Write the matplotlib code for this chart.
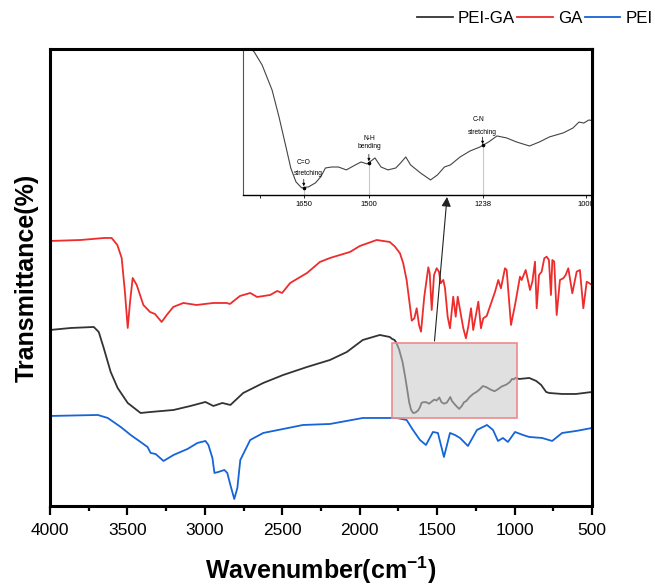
import numpy as np
import matplotlib
matplotlib.use('Agg')
import matplotlib.pyplot as plt
from matplotlib.patches import Rectangle
from matplotlib.ticker import MultipleLocator
from matplotlib.lines import Line2D

plt.rcParams['font.family'] = ['Liberation Sans', 'DejaVu Sans']
plt.rcParams['mathtext.fontset'] = 'custom'
plt.rcParams['mathtext.rm'] = 'Liberation Sans'
plt.rcParams['mathtext.bf'] = 'Liberation Sans:bold'

# ---------------- data ----------------
series_names = ['PEI-GA', 'GA', 'PEI']
series_colors = ['#333333', '#EE2C2C', '#1565D8']

pei_ga_wn = [4000, 3865, 3717, 3685, 3653, 3608, 3563, 3498, 3415, 3350, 3202, 3093,
             2996, 2945, 2887, 2835, 2752, 2623, 2494, 2340, 2192, 2083, 1980, 1870,
             1806, 1790, 1775, 1764, 1746, 1723, 1707, 1691, 1680, 1668, 1655, 1639,
             1623, 1611, 1600, 1586, 1570, 1552, 1531, 1518, 1504, 1486, 1472, 1456,
             1438, 1427, 1415, 1404, 1381, 1358, 1342, 1326, 1312, 1290, 1267, 1244,
             1224, 1205, 1183, 1160, 1130, 1107, 1084, 1052, 1030, 1016, 1005, 993,
             970, 905, 860, 828, 796, 777, 693, 603, 500]
pei_ga_t = [180, 182, 183, 178, 162, 138, 122, 107, 97, 98, 100, 104,
            108, 104, 107, 105, 117, 127, 135, 143, 150, 158, 170, 175,
            173, 171, 170, 167.4, 160.7, 147.7, 133.7, 118.2, 107.3, 100.1, 97.0, 97.5,
            99.6, 102.7, 107.3, 107.8, 107.8, 106.3, 108.9, 110.4, 109.4, 112.5, 107.8, 106.3,
            107.3, 109.9, 113.0, 108.9, 104.7, 101.1, 103.7, 107.8, 108.9, 113.0, 116.1, 118.2,
            120.8, 123.9, 122.9, 120.8, 118.7, 120.8, 123.4, 125.5, 128.0, 131.1, 130.6, 132.2,
            131, 132, 129, 125, 118, 117, 116, 116, 118]

ga_wn = [4000, 3800, 3650, 3602, 3565, 3537, 3516, 3498, 3483, 3466, 3440, 3397, 3354,
         3322, 3279, 3246, 3204, 3139, 3053, 2946, 2859, 2838, 2773, 2707, 2662, 2578,
         2533, 2501, 2449, 2340, 2257, 2192, 2063, 1999, 1890, 1806,
         1772, 1740, 1719, 1697, 1675, 1664, 1647, 1632, 1617, 1604, 1583, 1557, 1548,
         1535, 1520, 1503, 1488, 1477, 1460, 1449, 1432, 1417, 1396, 1380, 1367, 1352,
         1331, 1314, 1299, 1281, 1267, 1234, 1217, 1202, 1180, 1148, 1126, 1105, 1088,
         1062, 1051, 1023, 997, 965, 954, 928, 900, 885, 868, 857, 842, 825, 808, 793,
         778, 765, 756, 744, 728, 707, 685, 670, 653, 627, 599, 578, 556, 534, 517, 500]
ga_t = [269, 270, 272, 272, 265, 252, 218, 182, 208, 232, 225, 205, 198,
        196, 188, 195, 203, 207, 205, 207, 207, 206, 214, 217, 213, 215,
        219, 217, 227, 237, 248, 252, 258, 264, 270, 268,
        263.3, 256.7, 246.7, 230, 203.3, 189.3, 191.7, 201.7, 185, 178.3, 213.3, 242.7, 236.7,
        200, 235, 241.7, 238.3, 226.7, 230, 221.7, 193.3, 181.7, 213.3, 193.3, 213.3, 200,
        181.7, 171.7, 183.3, 201.7, 180, 208.3, 181.7, 191.7, 194, 208.3, 218.3, 230, 221.7,
        241.7, 240, 185, 205, 233.3, 230, 240, 220, 228.3, 248.3, 201.7, 235, 238.3, 251.7, 253.3,
        250, 215, 250, 248.3, 195, 230, 231.7, 235, 241.7, 216.7, 238.3, 240, 201.7, 228.3, 226.7, 225]

pei_wn = [4000, 3691, 3627, 3543, 3479, 3415, 3370, 3350, 3318, 3267, 3202, 3112, 3048,
          2996, 2977, 2951, 2938, 2913, 2874, 2855, 2835, 2810, 2790, 2771, 2707, 2623,
          2494, 2366, 2192, 1980, 1870, 1761, 1697, 1656, 1611, 1572, 1527, 1495, 1456,
          1417, 1385, 1352, 1301, 1243, 1178, 1139, 1107, 1075, 1043, 997, 946, 905,
          822, 757, 693, 603, 500]
pei_t = [94, 95, 92, 83, 75, 68, 63, 57, 56, 49, 55, 61, 67,
         69, 65, 52, 37, 38, 40, 37, 25, 11, 22, 50, 70, 77,
         81, 85, 86, 92, 92, 92, 90, 80, 70, 65, 78, 77, 53,
         77, 75, 72, 64, 80, 85, 80, 69, 72, 68, 78, 75, 73,
         72, 69, 77, 79, 82]

zoom_wn = (1793, 985)       # highlighted region
zoom_t = (92, 167)
inset_xlim = (1790, 986)
inset_ylim = (93.3, 169)
inset_ticks = [1750, 1650, 1500, 1238, 1000]
inset_ticklabels = ['', '1650', '1500', '1238', '1000']
peaks = [(1650, 'C=O', 'stretching'), (1500, 'N-H', 'bending'), (1238, 'C-N', 'stretching')]
# text offsets (points): (dx_top, dy_top, dx_bottom, dy_bottom)
peak_offsets = [(0, 18, 3, 10), (0, 17, 0, 11.5), (-3, 19, 0, 9.5)]

# ---------------- figure ----------------
fig = plt.figure(figsize=(6.55, 5.88), dpi=100)
ax = fig.add_axes([0.0763, 0.1395, 0.8275, 0.7772])

all_wn = [pei_ga_wn, ga_wn, pei_wn]
all_t = [pei_ga_t, ga_t, pei_t]
for wn, t, c in zip(all_wn, all_t, series_colors):
    ax.plot(wn, t, color=c, lw=1.3, solid_joinstyle='round', zorder=2)

ax.set_xlim(4000, 500)
ax.set_ylim(4, 461)
ax.set_yticks([])
ax.xaxis.set_major_locator(MultipleLocator(500))
ax.xaxis.set_minor_locator(MultipleLocator(250))
ax.tick_params(axis='x', which='major', direction='out', length=6.5, width=1.6,
               labelsize=12.5, pad=5.5)
ax.tick_params(axis='x', which='minor', direction='out', length=3.5, width=1.6)
for s in ax.spines.values():
    s.set_linewidth(2.2)
ax.set_xlabel(r'Wavenumber(cm$^{\mathbf{-1}}$)', fontsize=18, fontweight='bold', labelpad=12)
ax.set_ylabel('Transmittance(%)', fontsize=18, fontweight='bold', labelpad=8)

rect = Rectangle((min(zoom_wn), zoom_t[0]), abs(zoom_wn[0] - zoom_wn[1]), zoom_t[1] - zoom_t[0],
                 facecolor=(0.78, 0.78, 0.78, 0.55), edgecolor='#F08A8A', lw=1.2, zorder=3)
ax.add_patch(rect)

ax.annotate('', xy=(1436, 313), xytext=(1517, 169),
            arrowprops=dict(arrowstyle='-|>', color='#222222', lw=0.8,
                            mutation_scale=14, shrinkA=0, shrinkB=0), zorder=4)

# ---------------- inset ----------------
ax_in = fig.add_axes([0.371, 0.6684, 0.5328, 0.2483])
ax_in.plot(pei_ga_wn, pei_ga_t, color='#444444', lw=0.8)
ax_in.set_xlim(*inset_xlim)
ax_in.set_ylim(*inset_ylim)
ax_in.set_yticks([])
ax_in.set_xticks(inset_ticks)
ax_in.set_xticklabels(inset_ticklabels)
ax_in.tick_params(axis='x', direction='out', length=2, width=0.6, labelsize=5.5, pad=2)
ax_in.spines['top'].set_linewidth(2.2)
ax_in.spines['right'].set_linewidth(2.2)
ax_in.spines['left'].set_linewidth(0.8)
ax_in.spines['left'].set_color('#555555')
ax_in.spines['bottom'].set_linewidth(1.0)

wn_asc = np.array(pei_ga_wn[::-1], dtype=float)
t_asc = np.array(pei_ga_t[::-1], dtype=float)
for (pw, l1, l2), (dx1, dy1, dx2, dy2) in zip(peaks, peak_offsets):
    pt = np.interp(pw, wn_asc, t_asc)
    ax_in.plot([pw, pw], [inset_ylim[0], pt], color='#c8c8c8', lw=0.8, zorder=1)
    ax_in.plot([pw], [pt], 'o', ms=1.6, color='k', zorder=3)
    ax_in.annotate('', xy=(pw, pt), xytext=(0, 6), textcoords='offset points',
                   arrowprops=dict(arrowstyle='-|>', color='k', lw=0.5,
                                   mutation_scale=4, shrinkA=0, shrinkB=1))
    ax_in.annotate(l1, xy=(pw, pt), xytext=(dx1, dy1), textcoords='offset points',
                   ha='center', va='center', fontsize=4.8)
    ax_in.annotate(l2, xy=(pw, pt), xytext=(dx2, dy2), textcoords='offset points',
                   ha='center', va='center', fontsize=4.8)

# ---------------- legend ----------------
handles = [Line2D([0], [0], color=c, lw=1.3) for c in series_colors]
fig.legend(handles, series_names, loc='center left', bbox_to_anchor=(0.6366, 0.969),
           ncol=3, frameon=False, handlelength=2.1, handletextpad=0.3,
           columnspacing=0.15, borderpad=0, borderaxespad=0, fontsize=12.2)

fig.savefig('out.png', dpi=100)
